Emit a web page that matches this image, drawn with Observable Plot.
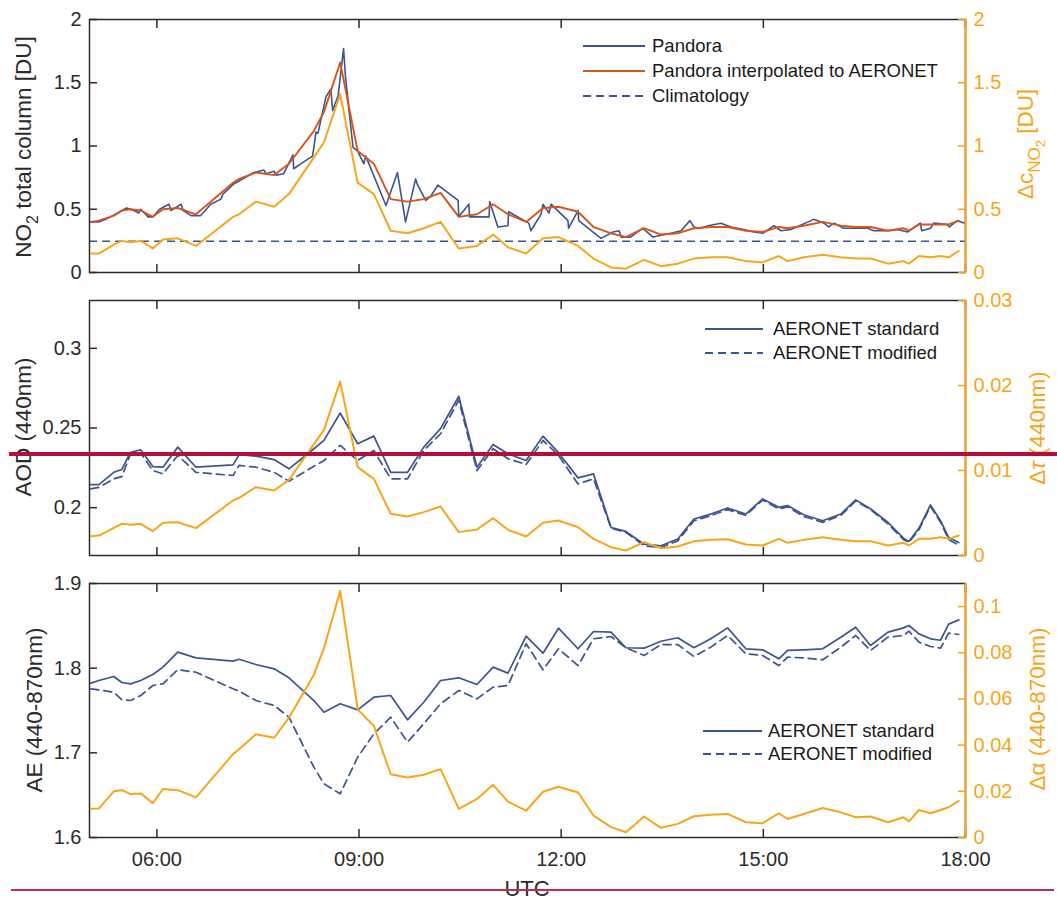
<!DOCTYPE html>
<html><head><meta charset="utf-8">
<script src="https://cdn.jsdelivr.net/npm/d3@7"></script>
<script src="https://cdn.jsdelivr.net/npm/@observablehq/plot@0.6"></script>
<style>
html,body{margin:0;padding:0;background:#fff;}
#chart{position:relative;width:1057px;height:901px;font-family:"Liberation Sans",Arial,Helvetica,sans-serif;}
.panel{position:absolute;left:0;width:1057px;}
.panel svg{position:absolute;left:0;top:0;}
.redline{position:absolute;}
</style></head><body>
<div id="chart"></div>
<script>
// ---------------- DATA (hours UTC, decimal) ----------------
const pandoraTime = [5.02,5.14,5.24,5.39,5.55,5.66,5.73,5.76,5.87,5.94,6.04,6.18,6.21,6.36,6.39,6.51,6.65,6.80,6.95,6.98,7.14,7.44,7.59,7.62,7.74,7.77,7.88,8.02,8.03,8.14,8.31,8.33,8.36,8.39,8.51,8.58,8.61,8.69,8.77,8.80,8.91,8.98,9.07,9.10,9.40,9.57,9.69,9.84,9.87,9.99,10.06,10.17,10.47,10.48,10.63,10.64,10.93,10.94,11.06,11.21,11.22,11.52,11.55,11.70,11.73,11.82,11.85,12.10,12.11,12.25,12.26,12.59,12.77,12.86,12.89,13.03,13.21,13.36,13.63,13.78,13.91,13.97,14.07,14.18,14.37,14.52,14.71,14.86,14.99,15.16,15.26,15.41,15.75,15.90,15.97,16.05,16.19,16.40,16.55,16.64,16.82,16.99,17.14,17.33,17.35,17.48,17.53,17.73,17.76,17.88,17.99];
const pandoraNO2 = [0.40,0.40,0.42,0.46,0.51,0.49,0.47,0.50,0.44,0.44,0.50,0.54,0.49,0.54,0.49,0.45,0.45,0.54,0.58,0.62,0.70,0.79,0.81,0.78,0.80,0.77,0.78,0.93,0.82,0.86,0.92,0.99,1.11,1.10,1.39,1.45,1.28,1.40,1.77,1.54,0.99,0.96,0.86,0.92,0.53,0.79,0.40,0.74,0.69,0.57,0.60,0.69,0.57,0.44,0.54,0.44,0.44,0.56,0.36,0.37,0.48,0.39,0.33,0.46,0.54,0.47,0.54,0.41,0.35,0.49,0.41,0.27,0.32,0.33,0.28,0.28,0.35,0.28,0.31,0.33,0.41,0.36,0.35,0.37,0.39,0.36,0.34,0.32,0.31,0.37,0.33,0.34,0.42,0.39,0.36,0.39,0.35,0.35,0.35,0.33,0.33,0.34,0.32,0.39,0.33,0.35,0.39,0.38,0.36,0.41,0.39];
const climatologyNO2 = 0.247;

const aeronetTime = [5.02,5.14,5.36,5.48,5.61,5.76,5.94,6.09,6.31,6.58,7.13,7.22,7.47,7.74,7.96,8.33,8.48,8.72,8.98,9.22,9.47,9.72,9.96,10.21,10.48,10.75,10.99,11.21,11.48,11.73,11.96,12.25,12.48,12.74,12.96,13.23,13.48,13.73,13.97,14.22,14.47,14.74,14.99,15.23,15.36,15.60,15.88,16.15,16.37,16.59,16.85,17.08,17.16,17.31,17.48,17.63,17.75,17.90];
const pandoraInterpNO2 = [0.40,0.41,0.45,0.49,0.50,0.49,0.44,0.50,0.51,0.46,0.71,0.74,0.79,0.77,0.86,1.12,1.27,1.66,0.96,0.86,0.58,0.56,0.58,0.63,0.44,0.46,0.54,0.46,0.40,0.51,0.52,0.48,0.36,0.31,0.28,0.35,0.30,0.31,0.35,0.36,0.36,0.33,0.32,0.36,0.35,0.37,0.40,0.37,0.36,0.36,0.33,0.35,0.33,0.38,0.38,0.38,0.38,0.41];
const deltaCNO2 = [0.15,0.15,0.22,0.25,0.24,0.25,0.19,0.26,0.27,0.21,0.44,0.46,0.56,0.52,0.62,0.91,1.03,1.41,0.71,0.62,0.33,0.31,0.35,0.40,0.19,0.21,0.30,0.20,0.15,0.27,0.28,0.21,0.11,0.04,0.03,0.10,0.05,0.07,0.11,0.12,0.12,0.09,0.08,0.13,0.09,0.12,0.14,0.12,0.11,0.11,0.07,0.09,0.07,0.13,0.12,0.13,0.12,0.17];
const aodStandard = [0.2145,0.2145,0.2222,0.2240,0.2348,0.2363,0.2258,0.2254,0.2380,0.2254,0.2269,0.2332,0.2323,0.2302,0.2244,0.2370,0.2422,0.2594,0.2401,0.2449,0.2222,0.2222,0.2380,0.2496,0.2699,0.2254,0.2397,0.2338,0.2296,0.2449,0.2345,0.2187,0.2212,0.1876,0.1851,0.1771,0.1761,0.1803,0.1929,0.1960,0.1998,0.1960,0.2055,0.2002,0.2013,0.1956,0.1918,0.1960,0.2049,0.1994,0.1907,0.1809,0.1788,0.1872,0.2017,0.1918,0.1813,0.1781];
const aodModified = [0.2118,0.2128,0.2181,0.2195,0.2338,0.2342,0.2233,0.2212,0.2328,0.2222,0.2202,0.2265,0.2254,0.2222,0.2166,0.2260,0.2296,0.2391,0.2296,0.2359,0.2181,0.2181,0.2359,0.2464,0.2674,0.2233,0.2370,0.2307,0.2271,0.2422,0.2328,0.2149,0.2181,0.1872,0.1845,0.1761,0.1750,0.1792,0.1918,0.1950,0.1988,0.1952,0.2048,0.1992,0.2005,0.1945,0.1908,0.1952,0.2042,0.1988,0.1898,0.1800,0.1782,0.1862,0.2008,0.1908,0.1800,0.1765];
const deltaTau = [0.00227,0.00235,0.00326,0.00373,0.00361,0.00373,0.00286,0.00385,0.00392,0.00322,0.00647,0.00678,0.00804,0.00765,0.00890,0.0131,0.01478,0.02047,0.01039,0.00902,0.00490,0.00459,0.00510,0.00576,0.00275,0.00306,0.00439,0.00302,0.00224,0.00385,0.00412,0.00333,0.00196,0.00098,0.00059,0.00157,0.00086,0.00106,0.00168,0.00184,0.00192,0.00129,0.00118,0.00196,0.00149,0.00184,0.00216,0.00184,0.00169,0.00169,0.00118,0.00149,0.00118,0.00196,0.00196,0.00216,0.00196,0.00235];
const aeStandard = [1.7823,1.7854,1.7902,1.7831,1.7815,1.7854,1.7925,1.8012,1.8189,1.8122,1.8083,1.8106,1.8043,1.7992,1.7886,1.7618,1.7480,1.7579,1.7508,1.7657,1.7677,1.7390,1.7598,1.7854,1.7886,1.7807,1.8012,1.7941,1.8378,1.8177,1.8472,1.8229,1.8433,1.8425,1.8241,1.8236,1.8318,1.8359,1.8241,1.8347,1.8476,1.8229,1.8217,1.8110,1.8209,1.8217,1.8229,1.8366,1.8484,1.8268,1.8425,1.8476,1.8504,1.8405,1.8347,1.8330,1.8520,1.8570];
const aeModified = [1.7756,1.7744,1.7716,1.7626,1.7618,1.7677,1.7795,1.7815,1.7981,1.7952,1.7756,1.7728,1.7618,1.7559,1.7421,1.6830,1.6634,1.6516,1.6949,1.7224,1.7421,1.7126,1.7343,1.7579,1.7736,1.7638,1.7776,1.7795,1.8288,1.7981,1.8229,1.8031,1.8347,1.8374,1.8241,1.8150,1.8279,1.8279,1.8138,1.8248,1.8386,1.8169,1.8150,1.8031,1.8130,1.8122,1.8099,1.8248,1.8386,1.8209,1.8366,1.8386,1.8437,1.8307,1.8256,1.8236,1.8413,1.8398];
const deltaAlpha = [0.0124,0.0126,0.0200,0.0205,0.0188,0.0191,0.0149,0.0210,0.0205,0.0174,0.0361,0.0382,0.0447,0.0432,0.0519,0.0705,0.0820,0.1068,0.0555,0.0483,0.0274,0.0260,0.0272,0.0296,0.0124,0.0167,0.0228,0.0155,0.0116,0.0198,0.0220,0.0195,0.0095,0.0045,0.0023,0.0091,0.0042,0.0059,0.0092,0.0098,0.0102,0.0066,0.0062,0.0105,0.0080,0.0102,0.0128,0.0109,0.0088,0.0091,0.0066,0.0088,0.0070,0.0119,0.0105,0.0119,0.0131,0.0159];

// axes / ticks
const xDomain = [5, 18];
const xTicks = [6, 9, 12, 15, 18];
const no2Ticks = [0, 0.5, 1, 1.5, 2];
const dcTicks = [0, 0.5, 1, 1.5, 2];
const aodTicks = [0.2, 0.25, 0.3];
const dtauTicks = [0, 0.01, 0.02, 0.03];
const aeTicks = [1.6, 1.7, 1.8, 1.9];
const dalphaTicks = [0, 0.02, 0.04, 0.06, 0.08, 0.1];
const legend1 = ["Pandora", "Pandora interpolated to AERONET", "Climatology"];
const legend23 = ["AERONET standard", "AERONET modified"];

// ---------------- TABLES ----------------
const pandora = pandoraTime.map((t, i) => ({t, v: pandoraNO2[i]}));
const aeronet = aeronetTime.map((t, i) => ({
  t, interp: pandoraInterpNO2[i], dc: deltaCNO2[i],
  aodS: aodStandard[i], aodM: aodModified[i], dtau: deltaTau[i],
  aeS: aeStandard[i], aeM: aeModified[i], dalpha: deltaAlpha[i]
}));

// ---------------- STYLE ----------------
const W = 1057, ML = 89, MR = 92;
const BLUE = "#3A5590", RED = "#D9541A", ORANGE = "#F9A51A", AX = "#2b2b2b";
const FONT = '"Liberation Sans", Arial, Helvetica, sans-serif';
const fmtHour = h => String(h).padStart(2, "0") + ":00";
const fmtNum = d => String(d);
const blank = () => "";
const DASH = "8,5";
const TK = 8; // inward tick length

const chart = document.getElementById("chart");

function panel({top, height, mt, mb, yDomain, yTicks, y2Domain, y2Ticks, leftMarks, rightMarks, showX}) {
  const div = document.createElement("div");
  div.className = "panel";
  div.style.top = top + "px";
  div.style.height = height + "px";
  const common = {width: W, height, marginLeft: ML, marginRight: MR, marginTop: mt, marginBottom: mb};
  const left = Plot.plot({
    ...common,
    style: {background: "transparent", fontFamily: FONT, fontSize: "20px", color: AX, overflow: "visible"},
    x: {domain: xDomain, label: null},
    y: {domain: yDomain, label: null},
    marks: [
      ...leftMarks,
      Plot.frame({stroke: AX, strokeWidth: 1.5}),
      // inward ticks (shifted by their own length)
      Plot.axisY(yTicks, {tickSize: TK, dx: TK, strokeWidth: 1.5, label: null, tickFormat: blank}),
      Plot.axisY(yTicks, {tickSize: 0, tickPadding: 8, label: null, tickFormat: fmtNum}),
      Plot.axisX(xTicks, {tickSize: TK, dy: -TK, strokeWidth: 1.5, label: null, tickFormat: blank}),
      Plot.axisX(xTicks, {anchor: "top", tickSize: TK, dy: TK, strokeWidth: 1.5, label: null, tickFormat: blank}),
      ...(showX ? [Plot.axisX(xTicks, {tickSize: 0, tickPadding: 14, label: null, tickFormat: fmtHour})] : [])
    ]
  });
  const right = Plot.plot({
    ...common,
    style: {background: "transparent", fontFamily: FONT, fontSize: "20px", color: ORANGE, overflow: "visible"},
    x: {domain: xDomain, axis: null},
    y: {domain: y2Domain, label: null},
    marks: [
      ...rightMarks,
      Plot.ruleX([xDomain[1]], {stroke: ORANGE, strokeWidth: 2}),
      Plot.axisY(y2Ticks, {anchor: "right", tickSize: TK, dx: -TK, strokeWidth: 1.5, label: null, tickFormat: blank}),
      Plot.axisY(y2Ticks, {anchor: "right", tickSize: 0, tickPadding: 8, label: null, tickFormat: fmtNum})
    ]
  });
  div.appendChild(left);
  div.appendChild(right);
  chart.appendChild(div);
  return right;
}

function vlabel(svg, x, y, parts, color) {
  const t = d3.select(svg).append("text")
    .attr("transform", `translate(${x},${y}) rotate(-90)`)
    .attr("text-anchor", "middle")
    .attr("fill", color)
    .style("font-family", FONT)
    .style("font-size", "22.5px");
  for (const [s, dy, size, italic] of parts) {
    const sp = t.append("tspan").attr("dy", dy || 0).text(s);
    if (size) sp.style("font-size", size + "px");
    if (italic) sp.style("font-style", "italic");
  }
}

function legend(svg, items, x1, x2, tx, ys) {
  const g = d3.select(svg).append("g").style("font-family", FONT).style("font-size", "18.5px");
  items.forEach((it, i) => {
    g.append("line").attr("x1", x1).attr("x2", x2).attr("y1", ys[i]).attr("y2", ys[i])
      .attr("stroke", it.color).attr("stroke-width", 1.8).attr("stroke-dasharray", it.dash || null);
    g.append("text").attr("x", tx).attr("y", ys[i]).attr("dy", "0.35em")
      .attr("text-anchor", "start").attr("fill", "#1a1a1a").text(it.label);
  });
}

// ---------------- PANEL 1 ----------------
const p1 = panel({
  top: 0, height: 290, mt: 19, mb: 18,
  yDomain: [0, 2], yTicks: no2Ticks, y2Domain: [0, 2], y2Ticks: dcTicks, showX: false,
  leftMarks: [
    Plot.ruleY([climatologyNO2], {stroke: BLUE, strokeWidth: 1.6, strokeDasharray: DASH}),
    Plot.line(pandora, {x: "t", y: "v", stroke: BLUE, strokeWidth: 1.6}),
    Plot.line(aeronet, {x: "t", y: "interp", stroke: RED, strokeWidth: 1.9})
  ],
  rightMarks: [Plot.line(aeronet, {x: "t", y: "dc", stroke: ORANGE, strokeWidth: 2})]
});
vlabel(p1, 31, 147, [["NO"], ["2", 7, 16], [" total column [DU]", -7]], AX);
vlabel(p1, 1033, 144, [["Δc"], ["NO", 7, 17], ["2", 5, 13], [" [DU]", -12]], ORANGE);
legend(p1, [
  {label: legend1[0], color: BLUE},
  {label: legend1[1], color: RED},
  {label: legend1[2], color: BLUE, dash: DASH}
], 583, 645, 652, [46, 71, 96]);

// ---------------- PANEL 2 ----------------
const p2 = panel({
  top: 290, height: 280, mt: 10, mb: 15,
  yDomain: [0.17, 0.33], yTicks: aodTicks, y2Domain: [0, 0.03], y2Ticks: dtauTicks, showX: false,
  leftMarks: [
    Plot.line(aeronet, {x: "t", y: "aodM", stroke: BLUE, strokeWidth: 1.7, strokeDasharray: DASH}),
    Plot.line(aeronet, {x: "t", y: "aodS", stroke: BLUE, strokeWidth: 1.7})
  ],
  rightMarks: [Plot.line(aeronet, {x: "t", y: "dtau", stroke: ORANGE, strokeWidth: 2})]
});
vlabel(p2, 31, 137, [["AOD (440nm)"]], AX);
vlabel(p2, 1045, 138, [["Δ"], ["τ", 0, null, true], [" (440nm)"]], ORANGE);
legend(p2, [
  {label: legend23[0], color: BLUE},
  {label: legend23[1], color: BLUE, dash: DASH}
], 705, 763, 773, [39, 63]);

// ---------------- PANEL 3 ----------------
const p3 = panel({
  top: 570, height: 331, mt: 13, mb: 64,
  yDomain: [1.6, 1.9], yTicks: aeTicks, y2Domain: [0, 0.11], y2Ticks: dalphaTicks, showX: true,
  leftMarks: [
    Plot.line(aeronet, {x: "t", y: "aeM", stroke: BLUE, strokeWidth: 1.7, strokeDasharray: DASH}),
    Plot.line(aeronet, {x: "t", y: "aeS", stroke: BLUE, strokeWidth: 1.7})
  ],
  rightMarks: [Plot.line(aeronet, {x: "t", y: "dalpha", stroke: ORANGE, strokeWidth: 2})]
});
vlabel(p3, 42, 140, [["AE (440-870nm)"]], AX);
vlabel(p3, 1045, 139, [["Δα (440-870nm)"]], ORANGE);
legend(p3, [
  {label: legend23[0], color: BLUE},
  {label: legend23[1], color: BLUE, dash: DASH}
], 703, 762, 768, [161, 184]);
d3.select(p3).append("text").attr("x", 527).attr("y", 326).attr("text-anchor", "middle")
  .attr("fill", AX).style("font-family", FONT).style("font-size", "22px").text("UTC");

// ---------------- annotation lines over the figure ----------------
function redLine(left, top, width, h, color) {
  const d = document.createElement("div");
  d.className = "redline";
  Object.assign(d.style, {left: left + "px", top: top + "px", width: width + "px", height: h + "px", background: color});
  chart.appendChild(d);
}
redLine(9, 452, 1048, 4, "#B30F3A");
redLine(11, 889, 1043, 1.5, "#BE2E4E");
</script>
</body></html>
